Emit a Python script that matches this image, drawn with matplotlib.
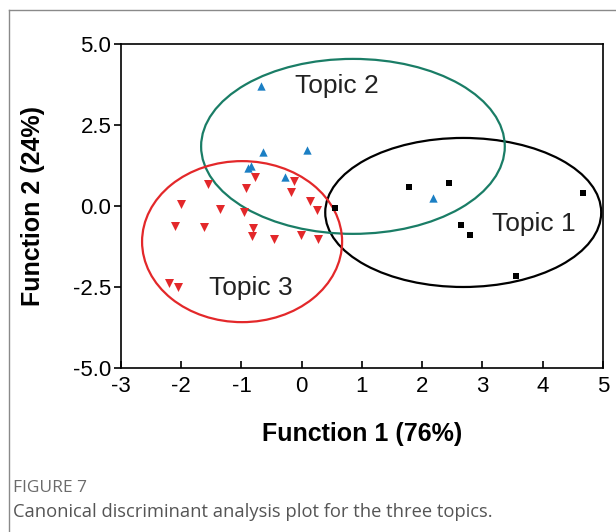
import matplotlib.pyplot as plt
from matplotlib.patches import Ellipse
from matplotlib.lines import Line2D

# canonical scores
topic1_x = [1.78, 2.44, 4.67, 0.56, 2.65, 2.79, 3.55]
topic1_y = [0.60, 0.72, 0.39, -0.07, -0.59, -0.90, -2.15]

topic2_x = [-0.68, -0.64, 0.09, -0.90, -0.85, -0.27, 2.18]
topic2_y = [3.70, 1.68, 1.73, 1.16, 1.23, 0.89, 0.24]

topic3_x = [-0.78, -1.56, -0.92, -0.13, -0.17, -2.00, -1.36, -0.96, 0.14, 0.26,
            -2.11, -1.63, -0.81, -0.83, -0.46, -0.02, 0.27, -2.20, -2.05]
topic3_y = [0.90, 0.68, 0.56, 0.78, 0.44, 0.06, -0.10, -0.19, 0.16, -0.13,
            -0.61, -0.64, -0.69, -0.93, -1.03, -0.90, -1.02, -2.37, -2.51]

# group ellipses: centre x, centre y, width, height
ellipse_centres = [(2.68, -0.20), (0.85, 1.84), (-0.99, -1.10)]
ellipse_sizes = [(4.58, 4.60), (5.04, 5.40), (3.32, 4.97)]
ellipse_colors = ["black", "#1a7d66", "#e3282a"]

topic_labels = ["Topic 1", "Topic 2", "Topic 3"]
label_pos = [(3.85, -0.56), (0.58, 3.70), (-0.84, -2.53)]

x_ticks = [-3, -2, -1, 0, 1, 2, 3, 4, 5]
y_ticks = [-5.0, -2.5, 0.0, 2.5, 5.0]

plt.rcParams["font.family"] = ["Liberation Sans", "DejaVu Sans"]

fig = plt.figure(figsize=(6.16, 5.32), dpi=100)
ax = fig.add_axes([0.1964, 0.3083, 0.7825, 0.609])

for (cx, cy), (w, h), col in zip(ellipse_centres, ellipse_sizes, ellipse_colors):
    ax.add_patch(Ellipse((cx, cy), w, h, fill=False, edgecolor=col, linewidth=1.6, zorder=3))

ax.scatter(topic3_x, topic3_y, marker="v", s=42, color="#e3282a", linewidths=0, zorder=4)
ax.scatter(topic2_x, topic2_y, marker="^", s=36, color="#1b7fc4", linewidths=0, zorder=4)
ax.scatter(topic1_x, topic1_y, marker="s", s=16, color="black", linewidths=0, zorder=4)

for lab, (tx, ty) in zip(topic_labels, label_pos):
    ax.text(tx, ty, lab, fontsize=19, ha="center", va="center", color="#222222")

ax.set_xlim(-3, 5)
ax.set_ylim(-5, 5)
ax.set_xticks(x_ticks)
ax.set_yticks(y_ticks)
ax.set_xticklabels([str(t) for t in x_ticks])
ax.set_yticklabels([f"{t:.1f}" for t in y_ticks])
ax.tick_params(axis="x", direction="in", length=5, width=1.2, labelsize=16, pad=6)
ax.tick_params(axis="y", direction="out", length=5, width=1.2, labelsize=16, pad=2)
for s in ax.spines.values():
    s.set_linewidth(1.2)

ax.set_xlabel("Function 1 (76%)", fontsize=18, fontweight="bold", labelpad=18)
ax.set_ylabel("Function 2 (24%)", fontsize=18, fontweight="bold", labelpad=20)

# page frame and caption
fig.add_artist(Line2D([9 / 616, 1], [1 - 10 / 532, 1 - 10 / 532], color="#8a8a8a", linewidth=1))
fig.add_artist(Line2D([9 / 616, 9 / 616], [0, 1 - 10 / 532], color="#8a8a8a", linewidth=1))
fig.text(13 / 616, 1 - 488 / 532, "FIGURE 7", fontsize=12.5, color="#6b6b6b",
         family=["Open Sans", "DejaVu Sans"], va="center")
fig.text(13 / 616, 1 - 512 / 532, "Canonical discriminant analysis plot for the three topics.",
         fontsize=13.2, color="#555555", family=["Open Sans", "DejaVu Sans"], va="center")

fig.savefig("out.png", dpi=100)
